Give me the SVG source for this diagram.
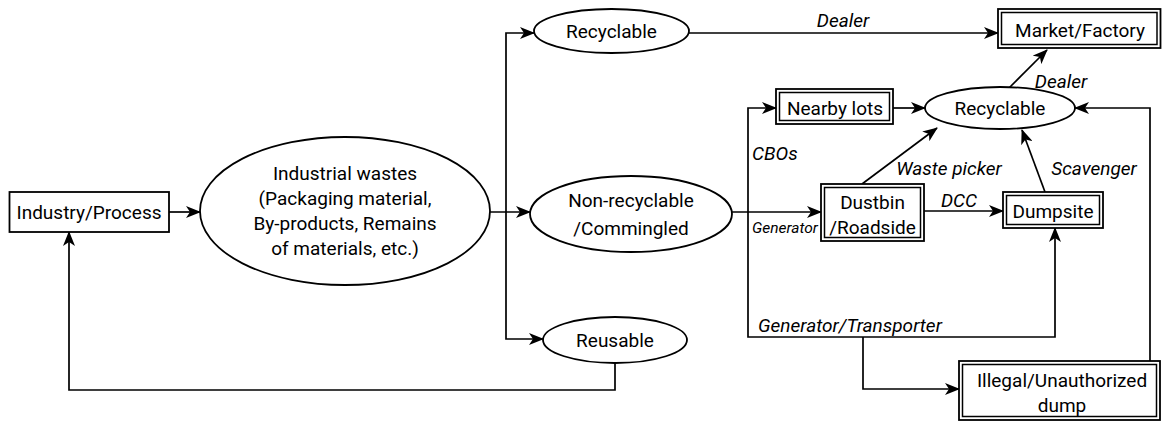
<svg xmlns="http://www.w3.org/2000/svg" width="1162" height="421" viewBox="0 0 1162 421">
<defs>
<style>
.n{fill:#fff;stroke:#000;stroke-width:1.8}
.d{fill:none;stroke:#000;stroke-width:1.5}
.t{font-family:Roboto,"Liberation Sans",sans-serif;font-size:19px;fill:#000;text-anchor:middle}
.i{font-family:Roboto,"Liberation Sans",sans-serif;font-size:19px;font-style:italic;fill:#000}
.c{fill:none;stroke:#000;stroke-width:1.7}
</style>
<marker id="a" viewBox="0 0 15 12" refX="14" refY="6" markerWidth="15" markerHeight="12" markerUnits="userSpaceOnUse" orient="auto">
<path d="M0,0 L15,6 L0,12 L4,6 Z" fill="#000"/>
</marker>
</defs>
<rect width="1162" height="421" fill="#fff"/>
<g id="connectors">
<path class="c" d="M169,212 H200" marker-end="url(#a)"/>
<path class="c" d="M490,212 H530" marker-end="url(#a)"/>
<path class="c" d="M506,212 V33 H534" marker-end="url(#a)"/>
<path class="c" d="M506,212 V339 H543" marker-end="url(#a)"/>
<path class="c" d="M689,33 H998" marker-end="url(#a)"/>
<path class="c" d="M732,212 H821" marker-end="url(#a)"/>
<path class="c" d="M748,212 V108 H776" marker-end="url(#a)"/>
<path class="c" d="M748,212 V337 H1055 V228" marker-end="url(#a)"/>
<path class="c" d="M863,337 V389 H959" marker-end="url(#a)"/>
<path class="c" d="M893,108 H925" marker-end="url(#a)"/>
<path class="c" d="M862,184 L937,128" marker-end="url(#a)"/>
<path class="c" d="M924,211 H1003" marker-end="url(#a)"/>
<path class="c" d="M1045,192 L1022,130" marker-end="url(#a)"/>
<path class="c" d="M1008,89 L1047,50" marker-end="url(#a)"/>
<path class="c" d="M1150,361 V108 H1075" marker-end="url(#a)"/>
<path class="c" d="M615,363 V390 H69 V232" marker-end="url(#a)"/>
<text class="i" x="843" y="27" text-anchor="middle">Dealer</text>
<text class="i" x="1061" y="88" text-anchor="middle">Dealer</text>
<text class="i" x="752" y="160">CBOs</text>
<text class="i" x="949" y="175" text-anchor="middle">Waste picker</text>
<text class="i" x="1094" y="175" text-anchor="middle">Scavenger</text>
<text class="i" x="959" y="207" text-anchor="middle">DCC</text>
<text class="i" x="785" y="233" text-anchor="middle" style="font-size:15.5px">Generator</text>
<text class="i" x="758" y="332">Generator/Transporter</text>
</g>
<g id="industry">
<rect class="n" x="9.5" y="192" width="159.5" height="40"/>
<text class="t" x="89" y="219">Industry/Process</text>
</g>
<g id="wastes">
<ellipse class="n" cx="345" cy="211" rx="145" ry="74"/>
<text class="t" x="345" y="180">Industrial wastes</text>
<text class="t" x="345" y="205">(Packaging material,</text>
<text class="t" x="345" y="230">By-products, Remains</text>
<text class="t" x="345" y="255">of materials, etc.)</text>
</g>
<g id="recyclable1">
<ellipse class="n" cx="611.5" cy="31" rx="77.5" ry="22"/>
<text class="t" x="611.5" y="38">Recyclable</text>
</g>
<g id="nonrecyclable">
<ellipse class="n" cx="631" cy="214" rx="101" ry="38"/>
<text class="t" x="631" y="207">Non-recyclable</text>
<text class="t" x="631" y="235">/Commingled</text>
</g>
<g id="reusable">
<ellipse class="n" cx="615" cy="340" rx="72" ry="23"/>
<text class="t" x="615" y="347">Reusable</text>
</g>
<g id="market">
<rect class="n" x="998" y="9" width="162.5" height="39"/>
<rect class="d" x="1001.5" y="12.5" width="155.5" height="32"/>
<text class="t" x="1080" y="37">Market/Factory</text>
</g>
<g id="nearby">
<rect class="n" x="776" y="89" width="117" height="35"/>
<rect class="d" x="779.5" y="92.5" width="110" height="28"/>
<text class="t" x="835" y="115">Nearby lots</text>
</g>
<g id="recyclable2">
<ellipse class="n" cx="1000" cy="108" rx="75" ry="21"/>
<text class="t" x="1000" y="115">Recyclable</text>
</g>
<g id="dustbin">
<rect class="n" x="821" y="184" width="103" height="57"/>
<rect class="d" x="824.5" y="187.5" width="96" height="50"/>
<text class="t" x="872.5" y="209">Dustbin</text>
<text class="t" x="872.5" y="234">/Roadside</text>
</g>
<g id="dumpsite">
<rect class="n" x="1003" y="192" width="100" height="36"/>
<rect class="d" x="1006.5" y="195.5" width="93" height="29"/>
<text class="t" x="1053" y="218">Dumpsite</text>
</g>
<g id="illegal">
<rect class="n" x="959" y="361" width="201" height="59"/>
<rect class="d" x="962.5" y="364.5" width="194" height="52"/>
<text class="t" x="1062" y="387">Illegal/Unauthorized</text>
<text class="t" x="1062" y="412">dump</text>
</g>
</svg>
